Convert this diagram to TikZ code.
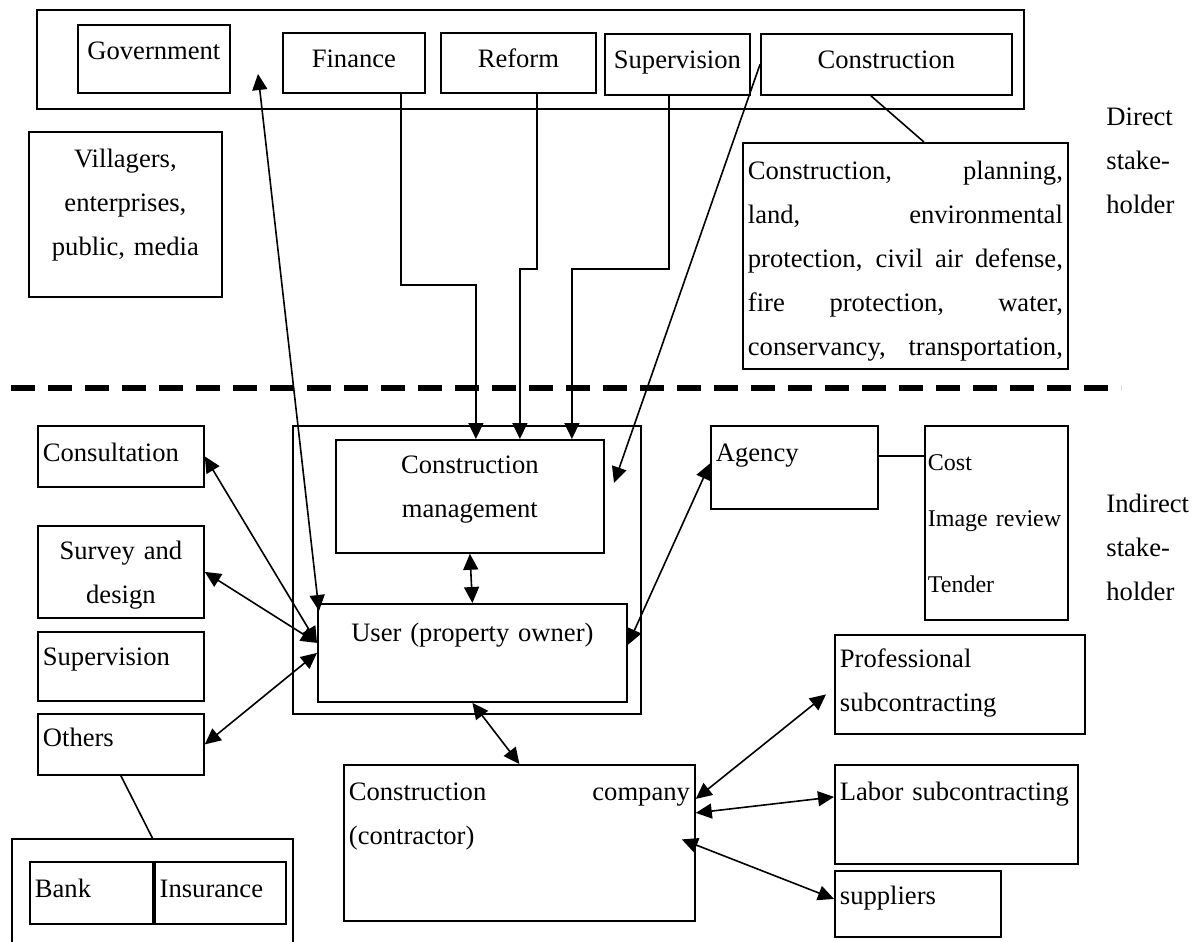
\documentclass[tikz,border=0pt]{standalone}
\usepackage{fontspec}
\setmainfont{Liberation Serif}
\usetikzlibrary{arrows.meta}
\usetikzlibrary{positioning}
\usetikzlibrary{calc}
% Invisible struts giving the room above the first and below the last line
\newcommand{\tgap}[1]{\rule{0pt}{#1}}
\newcommand{\bgap}[1]{\rule[-#1]{0pt}{#1}}
\tikzset{
    % Plain outline box, placed by its top left corner
    box/.style={draw, line width=0.9pt, anchor=north west,
        inner xsep=2.5pt, inner ysep=0pt},
%
    % Link with a filled head at the far end
    link/.style={line width=0.8pt, -{Triangle[length=8pt,width=7.5pt]}},
%
    % Link with heads at both ends
    twoway/.style={line width=0.8pt,
        {Triangle[length=8pt,width=7.5pt]}-{Triangle[length=8pt,width=7.5pt]}},
%
    % Bare line tying a box to its details
    tie/.style={line width=0.8pt},
%
    % Heavy dashed line between the two groups
    divider/.style={line width=2.6pt, dash pattern=on 12pt off 6.5pt}}

\begin{document}
\begin{tikzpicture}[x=0.5pt, y=-0.5pt, font=\fontsize{13.3pt}{22pt}\selectfont]

\useasboundingbox (0,0) rectangle (1200,942);
\clip (0,0) rectangle (1200,942);

% Direct stakeholders

\node [box, minimum width=493.5pt, minimum height=49.5pt] (topgroup) at (36,9) {};
\node [box, text width=71pt, align=center] (gov) at (77,24)
    {\tgap{17.5pt}Government\bgap{16.5pt}};
\node [box, text width=66pt, align=center] (finance) at (282,32)
    {\tgap{17.5pt}Finance\bgap{12.5pt}};
\node [box, text width=72.5pt, align=center] (reform) at (440,32)
    {\tgap{17.5pt}Reform\bgap{12.5pt}};
\node [box, text width=67.5pt, align=center] (supervtop) at (604,33)
    {\tgap{17.5pt}Supervision\bgap{13pt}};
\node [box, text width=120.5pt, align=center] (contop) at (760,33)
    {\tgap{17.5pt}Construction\bgap{13pt}};

\node [box, text width=91.5pt, align=center] (villagers) at (28,131)
    {\tgap{18pt}Villagers,\\enterprises,\\public, media\bgap{20.5pt}};

\node [box, text width=157.5pt, align=justify] (conlist) at (742,142)
    {\tgap{18.5pt}Construction, planning,\linebreak
     land, environmental\linebreak
     protection, civil air defense,\linebreak
     fire protection, water,\linebreak
     conservancy,\hfill transportation,\bgap{6.5pt}};

\node [anchor=north west, inner sep=0pt, align=left] (direct) at (1106,105)
    {\tgap{10pt}Direct\\stake-\\holder};

\draw [divider] (11,388) -- (1121,388);

% Indirect stakeholders

\node [box, minimum width=174pt, minimum height=144pt] (usergroup) at (292,425) {};
\node [box, text width=129pt, align=center] (cm) at (335,439)
    {\tgap{17pt}Construction\\management\bgap{17.5pt}};
\node [box, text width=149.5pt, align=center] (user) at (317,603)
    {\tgap{19pt}User (property owner)\bgap{30pt}};

\node [box, text width=78.5pt, align=left] (agency) at (710,425)
    {\tgap{18pt}Agency\bgap{23.5pt}};
\node [box, inner xsep=1.5pt, text width=68.5pt, align=left,
    font=\fontsize{12pt}{22pt}\selectfont] (cost) at (924,425)
    {\tgap{22.5pt}Cost\\[6pt]Image review\\[11pt]Tender\bgap{13.5pt}};

\node [anchor=north west, inner sep=0pt, align=left] (indirect) at (1106,492)
    {\tgap{10pt}Indirect\\stake-\\holder};

\node [box, text width=78pt, align=left] (consult) at (37,425)
    {\tgap{18pt}Consultation\bgap{12.5pt}};
\node [box, text width=78pt, align=center] (survey) at (37,525)
    {\tgap{17pt}Survey and\\design\bgap{7pt}};
\node [box, text width=78pt, align=left] (supervleft) at (37,631)
    {\tgap{17pt}Supervision\bgap{17.5pt}};
\node [box, text width=78pt, align=left] (others) at (37,713)
    {\tgap{16.5pt}Others\bgap{14pt}};

\node [box, minimum width=140.5pt, minimum height=62pt] (finouter) at (11,838) {};
\node [box, text width=56.5pt, align=left] (bank) at (29,861)
    {\tgap{18pt}Bank\bgap{13pt}};
\node [box, text width=60.5pt, align=left, right=0pt of bank] (insurance)
    {\tgap{18pt}Insurance\bgap{13pt}};

\node [box, text width=170.5pt, align=justify] (company) at (343,764)
    {\tgap{18pt}Construction company\linebreak (contractor)\bgap{38pt}};

\node [box, text width=120pt, align=left] (prof) at (834,634)
    {\tgap{16.5pt}Professional\\subcontracting\bgap{11pt}};
\node [box, text width=116.5pt, align=left] (labor) at (834,764)
    {\tgap{18pt}Labor subcontracting\bgap{31.5pt}};
\node [box, text width=78pt, align=left] (suppliers) at (834,870)
    {\tgap{17pt}suppliers\bgap{16pt}};

% Links

\coordinate (govtip) at (258,74);
\coordinate (cmgap) at (614,483);

\draw [link] ([xshift=23.5pt]finance.south) -- ++(0,191) -| ([xshift=3pt]cm.north);
\draw [link] ([xshift=9.25pt]reform.south) -- ++(0,175) -| ([xshift=25pt]cm.north);
\draw [link] ([xshift=-4.25pt]supervtop.south) -- ++(0,173) -| ([xshift=51pt]cm.north);
\draw [link] (contop.west) -- (cmgap);
\draw [twoway] (govtip) -- ([xshift=1pt,yshift=-4pt]user.north west);
\draw [tie] ([xshift=-7.75pt]contop.south) -- ([xshift=9.25pt]conlist.north);

\draw [twoway] (cm.south) -- (user.north);
\draw [twoway] (user.south) -- (company.north);
\draw [twoway] ([yshift=2pt]agency.west) -- ([yshift=4pt]user.east);
\draw [tie] ([yshift=5.75pt]agency.east) coordinate (agencyout) -- (agencyout -| cost.west);

\draw [twoway] (consult.east) -- ([yshift=5pt]user.west);
\draw [twoway] (survey.east) -- ([yshift=5pt]user.west);
\draw [twoway] (others.east) -- (user.west);
\draw [tie] (others.south) -- (finouter.north);

\draw [twoway] ([yshift=22pt]company.east) -- ([xshift=-4pt,yshift=-5pt]prof.west);
\draw [twoway] ([yshift=15pt]company.east) -- ([yshift=8.75pt]labor.west);
\draw [twoway] ([xshift=-7pt,yshift=1.75pt]company.east) -- ([yshift=2.5pt]suppliers.west);

\end{tikzpicture}
\end{document}
